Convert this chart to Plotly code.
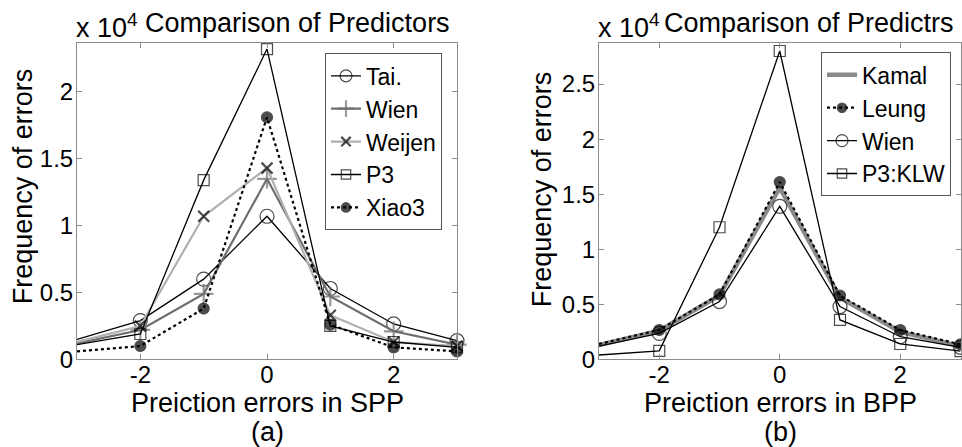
import plotly.graph_objects as go

# ---------- data (values in units of 10^4) ----------
x_err = [-3, -2, -1, 0, 1, 2, 3]

# (a) SPP
spp_tai = [0.15, 0.29, 0.60, 1.07, 0.53, 0.265, 0.14]
spp_wien = [0.12, 0.22, 0.49, 1.35, 0.47, 0.21, 0.11]
spp_weijen = [0.13, 0.25, 1.07, 1.43, 0.33, 0.13, 0.10]
spp_p3 = [0.11, 0.19, 1.34, 2.32, 0.25, 0.13, 0.09]
spp_xiao3 = [0.06, 0.10, 0.38, 1.81, 0.26, 0.09, 0.06]

# (b) BPP
bpp_kamal = [0.13, 0.26, 0.58, 1.56, 0.56, 0.25, 0.12]
bpp_leung = [0.14, 0.267, 0.59, 1.61, 0.58, 0.267, 0.136]
bpp_wien = [0.12, 0.236, 0.525, 1.39, 0.48, 0.206, 0.11]
bpp_p3klw = [0.04, 0.078, 1.20, 2.80, 0.358, 0.14, 0.076]

x_ticks = [-2, 0, 2]
x_ticktext = ["-2", "0", "2"]
spp_yticks = [0, 0.5, 1, 1.5, 2]
bpp_yticks = [0, 0.5, 1, 1.5, 2, 2.5]

FONT = "Liberation Sans, Arial, sans-serif"
FS = 27       # titles
TFS = 24      # tick labels
LFS = 23      # legend
W, H = 962, 463          # figure size; the capture comes out ~447 tall
REF_W, REF_H = 962, 447  # coordinates below are picture pixels


def msizes(s):
    # first point (x=-3) is only a line continuation; no marker drawn there
    return [0] + [s] * (len(x_err) - 1)


fig = go.Figure()


def add(name, y, xa, ya, legend, lcolor, lwidth, dash, symbol, msize, mcolor, mlw=1.2, mode="lines+markers"):
    fig.add_trace(go.Scatter(
        x=x_err, y=y, name=name, xaxis=xa, yaxis=ya, legend=legend, mode=mode,
        line=dict(color=lcolor, width=lwidth, dash=dash),
        marker=dict(symbol=symbol, size=msizes(msize), color=mcolor,
                    line=dict(color=mcolor, width=mlw)),
        cliponaxis=False,
    ))


# left panel
add("Tai.", spp_tai, "x", "y", "legend", "black", 1.3, "solid", "circle-open", 14, "black")
add("Wien", spp_wien, "x", "y", "legend", "#6e6e6e", 2.2, "solid", "cross-thin-open", 14, "#6e6e6e", 2.2)
add("Weijen", spp_weijen, "x", "y", "legend", "#b0b0b0", 2.2, "solid", "x-thin-open", 11, "black", 2.2)
add("P3", spp_p3, "x", "y", "legend", "black", 1.3, "solid", "square-open", 11, "black")
add("Xiao3", spp_xiao3, "x", "y", "legend", "black", 2.2, "dot", "circle", 11, "black")

# right panel
add("Kamal", bpp_kamal, "x2", "y2", "legend2", "#8a8a8a", 4.5, "solid", "circle", 0, "#8a8a8a", 0, mode="lines")
add("Leung", bpp_leung, "x2", "y2", "legend2", "black", 2.2, "dot", "circle", 11, "black")
add("Wien", bpp_wien, "x2", "y2", "legend2", "black", 1.3, "solid", "circle-open", 14, "black")
add("P3:KLW", bpp_p3klw, "x2", "y2", "legend2", "black", 1.3, "solid", "square-open", 11, "black")

AX = "#8c8c8c"


def px_x(p):
    return min(1.0, max(0.0, p / REF_W))


def px_y(p):
    return min(1.0, max(0.0, 1 - p / REF_H))


tickfont = dict(size=TFS, color="black", family=FONT)
xaxis_common = dict(range=[-3, 3], tickvals=x_ticks, ticktext=x_ticktext, ticks="inside", ticklen=5,
                    tickcolor=AX, showline=True, linecolor=AX, linewidth=1, mirror="ticks",
                    showgrid=False, zeroline=False, tickfont=tickfont, ticklabelstandoff=-6)
yaxis_common = dict(ticks="inside", ticklen=5, tickcolor=AX, showline=True, linecolor=AX,
                    linewidth=1, mirror="ticks", showgrid=False, zeroline=False,
                    tickfont=tickfont, ticklabelstandoff=-2)

yd = [px_y(357), px_y(43)]
fig.update_layout(
    width=W, height=H, margin=dict(l=0, r=0, t=0, b=0),
    paper_bgcolor="white", plot_bgcolor="white",
    font=dict(family=FONT, size=FS, color="black"),
    xaxis=dict(domain=[px_x(77), px_x(457)], anchor="y", **xaxis_common),
    yaxis=dict(domain=yd, anchor="x", range=[0, 2.363], tickvals=spp_yticks, **yaxis_common),
    xaxis2=dict(domain=[px_x(599), px_x(960.5)], anchor="y2", **xaxis_common),
    yaxis2=dict(domain=yd, anchor="x2", range=[0, 2.87], tickvals=bpp_yticks, **yaxis_common),
    legend=dict(x=px_x(325), y=px_y(53), xanchor="left", yanchor="top", bgcolor="white",
                bordercolor="#555555", borderwidth=1, itemwidth=30,
                font=dict(size=LFS, family=FONT, color="black"), tracegroupgap=0),
    legend2=dict(x=px_x(821), y=px_y(52), xanchor="left", yanchor="top", bgcolor="white",
                 bordercolor="#555555", borderwidth=1, itemwidth=30,
                 font=dict(size=LFS, family=FONT, color="black"), tracegroupgap=0),
    showlegend=True,
)

ann = []


def note(text, x, y, xanchor="center", yanchor="middle", angle=0):
    ann.append(dict(text=text, x=px_x(x), y=px_y(y), xref="paper", yref="paper",
                    xanchor=xanchor, yanchor=yanchor, showarrow=False, textangle=angle,
                    font=dict(size=FS, family=FONT, color="black")))


note("x 10<sup>4</sup>", 74, 26, xanchor="left")
note("Comparison of Predictors", 143, 23, xanchor="left")
note("x 10<sup>4</sup>", 596, 26, xanchor="left")
note("Comparison of Predictrs", 662, 23, xanchor="left")
note("Frequency of errors", 23, 185, angle=-90)
note("Frequency of errors", 542, 188, angle=-90)
note("Preiction errors in SPP", 267, 400)
note("Preiction errors in BPP", 780, 400)
note("(a)", 267, 429)
note("(b)", 780, 429)
fig.update_layout(annotations=ann)

fig.write_html("out.html")
